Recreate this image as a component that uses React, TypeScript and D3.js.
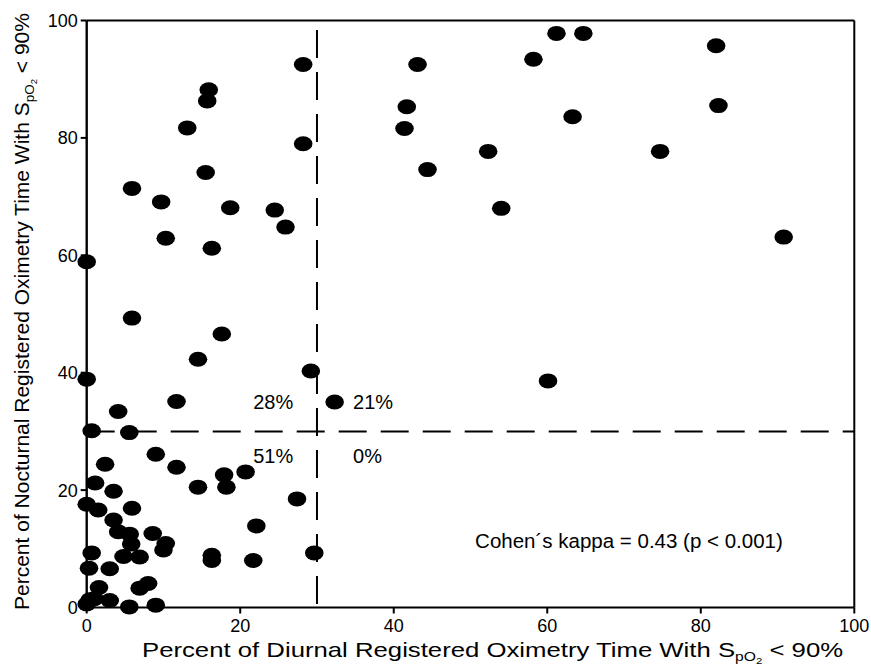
import React from 'react';
import * as d3 from 'd3';

// Percent of diurnal registered oximetry time with SpO2 < 90% (x)
const diurnal = [
  // upper-left quadrant
  0, 0, 28.2, 28.2, 13.1, 15.9, 15.7, 15.5, 5.9, 9.7, 18.7, 24.5, 25.9, 10.3, 16.3, 5.9, 17.6, 14.5, 29.2, 11.7, 4.1, 0.65,
  // lower-left quadrant
  5.55, 9.0, 2.4, 11.7, 17.9, 20.7, 18.2, 14.5, 1.1, 3.5, 0, 1.5, 5.9, 27.4, 3.5, 4.1, 5.6, 8.6, 5.8, 10.3,
  10.0, 22.1, 0.65, 4.8, 6.9, 16.3, 16.3, 21.7, 29.65, 0.3, 3.0, 1.6, 6.9, 8.0, 0.4, 3.0, 5.55, 9.0, 0, 1.0,
  // upper-right quadrant
  43.1, 61.2, 64.7, 82.0, 58.2, 41.7, 41.4, 82.3, 63.3, 52.3, 74.7, 44.4, 54.0, 90.8, 60.1, 32.3,
];

// Percent of nocturnal registered oximetry time with SpO2 < 90% (y)
const nocturnal = [
  58.9, 38.9, 92.5, 79.0, 81.7, 88.2, 86.3, 74.1, 71.4, 69.1, 68.1, 67.7, 64.8, 62.9, 61.2, 49.3, 46.6, 42.3, 40.3, 35.1, 33.4, 30.1,
  29.8, 26.1, 24.4, 23.9, 22.6, 23.1, 20.5, 20.5, 21.2, 19.8, 17.6, 16.6, 16.9, 18.5, 14.9, 12.9, 12.5, 12.6, 10.8, 10.9,
  9.8, 13.9, 9.3, 8.7, 8.6, 8.9, 8.0, 8.0, 9.3, 6.7, 6.6, 3.4, 3.3, 4.1, 1.3, 1.2, 0.1, 0.4, 0.6, 1.5,
  92.5, 97.8, 97.8, 95.7, 93.4, 85.3, 81.6, 85.5, 83.6, 77.7, 77.7, 74.6, 68.0, 63.1, 38.6, 35.0,
];

const xTickValues = [0, 20, 40, 60, 80, 100];
const yTickValues = [0, 20, 40, 60, 80, 100];
const cutoff = 30;

const quadrantText = ['28%', '21%', '51%', '0%'];
const quadrantX = [26.9, 34.7, 26.9, 34.7];
const quadrantY = [33.9, 33.8, 24.7, 24.7];
const quadrantAnchor = ['end', 'start', 'end', 'start'];

const kappaText = 'Cohen\u00B4s kappa = 0.43 (p < 0.001)';
const kappaX = 50.6;
const kappaY = 10.2;

const FONT = '"Liberation Sans", Arial, Helvetica, sans-serif';

export default function App() {
  const W = 871;
  const H = 666;
  const x = d3.scaleLinear().domain([0, 100]).range([86.7, 854.3]);
  const y = d3.scaleLinear().domain([0, 100]).range([607.5, 20.5]);

  const points = d3.zip(diurnal, nocturnal);

  return (
    <svg
      width={W}
      height={H}
      style={{ position: 'absolute', left: 0, top: 0, background: '#fff' }}
      fontFamily={FONT}
    >
      <rect x={0} y={0} width={W} height={H} fill="#fff" />

      {/* cutoff dashed lines */}
      <line
        x1={x(cutoff)} x2={x(cutoff)} y1={y(100)} y2={y(0)}
        stroke="#000" strokeWidth={2} strokeDasharray="28 14" strokeDashoffset={32.5}
      />
      <line
        x1={x(0)} x2={x(100)} y1={y(cutoff)} y2={y(cutoff)}
        stroke="#000" strokeWidth={2} strokeDasharray="28 14"
      />

      {/* frame */}
      <line x1={x(0)} x2={x(100)} y1={y(100)} y2={y(100)} stroke="#000" strokeWidth={2} />
      <line x1={x(100)} x2={x(100)} y1={y(100)} y2={y(0)} stroke="#000" strokeWidth={2} />
      <line x1={x(0)} x2={x(100)} y1={y(0)} y2={y(0)} stroke="#000" strokeWidth={2.2} />
      <line x1={x(0)} x2={x(0)} y1={y(100)} y2={y(0)} stroke="#000" strokeWidth={2.4} />

      {/* y ticks */}
      {yTickValues.map((t) => (
        <g key={'y' + t}>
          <line x1={x(0) - 6} x2={x(0)} y1={y(t)} y2={y(t)} stroke="#000" strokeWidth={2} />
          <text x={x(0) - 9} y={y(t) + 6.5} fontSize={18} textAnchor="end" fill="#000">
            {t}
          </text>
        </g>
      ))}

      {/* x ticks */}
      {xTickValues.map((t) => (
        <g key={'x' + t}>
          <line x1={x(t)} x2={x(t)} y1={y(0)} y2={y(0) + 6} stroke="#000" strokeWidth={2} />
          <text x={x(t)} y={y(0) + 24.5} fontSize={18} textAnchor="middle" fill="#000">
            {t}
          </text>
        </g>
      ))}

      {/* quadrant percentages */}
      {quadrantText.map((s, i) => (
        <text
          key={s}
          x={x(quadrantX[i])}
          y={y(quadrantY[i])}
          fontSize={20}
          textAnchor={quadrantAnchor[i]}
          fill="#000"
        >
          {s}
        </text>
      ))}

      <text x={x(kappaX)} y={y(kappaY)} fontSize={20.5} fill="#000">
        {kappaText}
      </text>

      {/* x axis title */}
      <g transform="translate(142,657) scale(1.255,1)">
        <text fontSize={20.5} fill="#000">
          Percent of Diurnal Registered Oximetry Time With S
          <tspan fontSize={12.5} dy={4}>pO</tspan>
          <tspan fontSize={9} dy={2.5}>2</tspan>
          <tspan fontSize={20.5} dy={-6.5}>{' < 90%'}</tspan>
        </text>
      </g>

      {/* y axis title */}
      <g transform="translate(29,610) rotate(-90)">
        <text fontSize={21} fill="#000">
          Percent of Nocturnal Registered Oximetry Time With S
          <tspan fontSize={13.5} dy={4.5}>pO</tspan>
          <tspan fontSize={9.5} dy={3}>2</tspan>
          <tspan fontSize={21} dy={-7.5}>{' < 90%'}</tspan>
        </text>
      </g>

      {/* points */}
      {points.map(([dx, ny], i) => (
        <ellipse key={i} cx={x(dx)} cy={y(ny)} rx={9.3} ry={7.5} fill="#000" />
      ))}
    </svg>
  );
}
